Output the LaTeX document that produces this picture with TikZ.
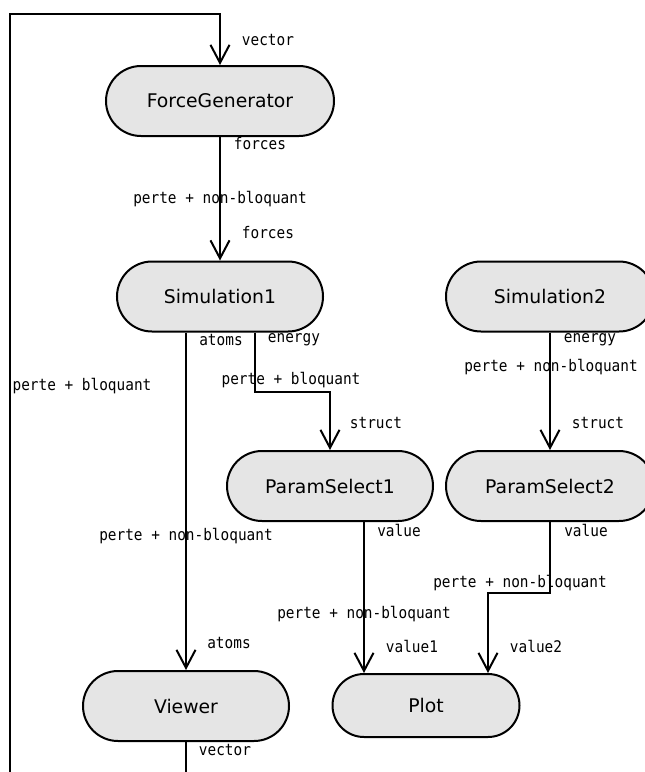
\documentclass[tikz,border=0pt]{standalone}
\usepackage{fontspec}
\setmainfont{DejaVu Sans}
\setmonofont[FakeStretch=0.9]{DejaVu Sans Mono}
\usetikzlibrary{shapes.misc,arrows.meta}
\definecolor{boxfill}{RGB}{229,229,229}
\tikzset{
 comp/.style={draw=black, line width=2pt, fill=boxfill, rounded rectangle, minimum height=70pt, minimum width=206pt, inner sep=0pt, font=\fontsize{18.8}{22}\selectfont},
 lbl/.style={font=\ttfamily\fontsize{16}{18}\selectfont, inner sep=0pt},
 conn/.style={line width=2pt, -{Straight Barb[length=18pt,width=19pt]}},
}
\begin{document}
\begin{tikzpicture}[x=1pt,y=-1pt]
\clip (0,0) rectangle (645,772);
\useasboundingbox (0,0) rectangle (645,772);
% nodes
\node[comp, minimum width=228pt] (fg) at (220,101) {ForceGenerator};
\node[comp] (sim1) at (220,296.5) {Simulation1};
\node[comp, minimum width=208pt] (sim2) at (550,296.5) {Simulation2};
\node[comp] (ps1) at (330,486) {ParamSelect1};
\node[comp, minimum width=208pt] (ps2) at (550,486) {ParamSelect2};
\node[comp] (viewer) at (186,706) {Viewer};
\node[comp, minimum width=187pt, minimum height=63pt] (plot) at (426,705.5) {Plot};
% loop coordinates
\coordinate (loopbl) at (10,800);
\coordinate (looptl) at (10,14);
% connectors
\draw[conn] (fg.south) -- (sim1.north);
\draw[conn] (sim1.south -| viewer.north) -- (viewer.north);
\draw[conn] ([xshift=35pt]sim1.south) -- ++(0,59) -| (ps1.north);
\draw[conn] (sim2.south) -- (ps2.north);
\draw[conn] ([xshift=34pt]ps1.south) -- ([xshift=34pt]ps1.south |- plot.north);
\draw[conn] (ps2.south) -- ++(0,71) -| ([xshift=62pt]plot.north);
\draw[conn] (viewer.south) |- (loopbl) -- (looptl) -| (fg.north);
% labels
\node[lbl] (l1) at (268,40) {vector};
\node[lbl] (l2) at (260,144) {forces};
\node[lbl] (l3) at (220,199) {perte + non-bloquant};
\node[lbl] (l4) at (268,233) {forces};
\node[lbl] (l5) at (221,340) {atoms};
\node[lbl] (l6) at (294,340) {energy};
\node[lbl] (l7) at (291,380) {perte + bloquant};
\node[lbl] (l8) at (376,423) {struct};
\node[lbl] (l9) at (590,340) {energy};
\node[lbl] (l10) at (551,367) {perte + non-bloquant};
\node[lbl] (l11) at (598,423) {struct};
\node[lbl] (l12) at (82,386) {perte + bloquant};
\node[lbl] (l13) at (186,536) {perte + non-bloquant};
\node[lbl] (l14) at (399,530) {value};
\node[lbl] (l15) at (586,530) {value};
\node[lbl] (l16) at (520,583) {perte + non-bloquant};
\node[lbl] (l17) at (364,614) {perte + non-bloquant};
\node[lbl] (l18) at (229,643) {atoms};
\node[lbl] (l19) at (412,646) {value1};
\node[lbl] (l20) at (536,646) {value2};
\node[lbl] (l21) at (225,750) {vector};
\end{tikzpicture}
\end{document}
